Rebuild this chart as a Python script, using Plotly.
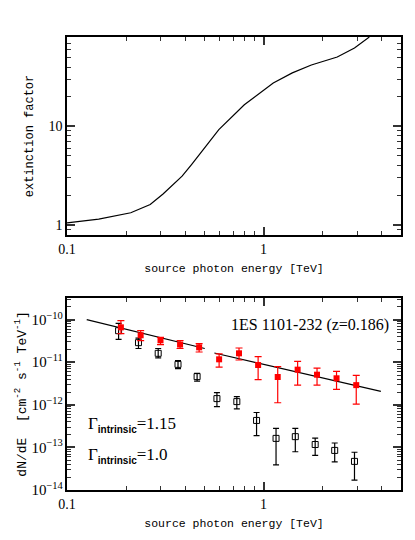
import plotly.graph_objects as go

# extinction factor curve (top panel)
ext_energy = [0.1, 0.145, 0.211, 0.265, 0.308, 0.385, 0.43, 0.592, 0.798, 1.12, 1.40, 1.75, 2.37, 2.90, 3.45]
ext_factor = [1.04, 1.14, 1.32, 1.60, 2.05, 3.11, 4.08, 9.25, 16.6, 27.6, 35.0, 42.1, 50.8, 62.8, 81.0]

# de-absorbed (intrinsic) spectrum, red
red_e = [0.188, 0.237, 0.299, 0.376, 0.47, 0.594, 0.75, 0.938, 1.18, 1.49, 1.87, 2.35, 2.96]
red_f = [6.6e-11, 4.3e-11, 3.27e-11, 2.6e-11, 2.24e-11, 1.17e-11, 1.62e-11, 8.6e-12, 4.5e-12, 6.7e-12, 5.1e-12, 4.2e-12, 2.9e-12]
red_hi = [9.5e-11, 5.5e-11, 3.85e-11, 3.2e-11, 2.73e-11, 1.58e-11, 2.16e-11, 1.35e-11, 7.9e-12, 1.05e-11, 7.3e-12, 6.1e-12, 4.9e-12]
red_lo = [4.7e-11, 3.2e-11, 2.6e-11, 2.1e-11, 1.74e-11, 7.7e-12, 1.13e-11, 3.9e-12, 1.12e-12, 2.9e-12, 2.9e-12, 2.3e-12, 1.04e-12]

# observed spectrum, black open squares
obs_e = [0.183, 0.231, 0.291, 0.367, 0.459, 0.579, 0.731, 0.921, 1.157, 1.45, 1.83, 2.30, 2.90]
obs_f = [5.5e-11, 2.88e-11, 1.62e-11, 8.9e-12, 4.6e-12, 1.4e-12, 1.19e-12, 4.3e-13, 1.63e-13, 1.79e-13, 1.17e-13, 8.5e-14, 4.7e-14]
obs_hi = [8.2e-11, 3.7e-11, 2.1e-11, 1.09e-11, 5.5e-12, 1.93e-12, 1.55e-12, 6.6e-13, 2.8e-13, 2.8e-13, 1.66e-13, 1.27e-13, 7.7e-14]
obs_lo = [3.45e-11, 2.1e-11, 1.26e-11, 7.1e-12, 3.6e-12, 9.1e-13, 8.0e-13, 1.9e-13, 3.9e-14, 7.9e-14, 6.5e-14, 4.6e-14, 1.7e-14]

# power-law fits
fit1_e = [0.126, 0.502]
fit1_f = [1.0e-10, 2.1e-11]
fit2_e = [0.562, 3.95]
fit2_f = [1.65e-11, 2.07e-12]

SERIF = "Liberation Serif"
MONO = "Liberation Mono"

X_RANGE = [-1, 0.699]
EXT_RANGE = [-0.105, 1.909]
FLUX_RANGE = [-14, -9.49]
TOP_DOM = [0.563, 1]
BOT_DOM = [0, 0.424]

fig = go.Figure()

fig.add_trace(go.Scatter(
    x=ext_energy, y=ext_factor, mode="lines",
    line=dict(color="black", width=1.2),
    xaxis="x", yaxis="y", showlegend=False,
))

for fe, ff in [(fit1_e, fit1_f), (fit2_e, fit2_f)]:
    fig.add_trace(go.Scatter(
        x=fe, y=ff, mode="lines", line=dict(color="black", width=1.2),
        xaxis="x2", yaxis="y2", showlegend=False,
    ))

fig.add_trace(go.Scatter(
    x=obs_e, y=obs_f, mode="markers",
    marker=dict(symbol="square-open", size=6, color="black", line=dict(width=1)),
    error_y=dict(type="data", symmetric=False,
                 array=[h - f for h, f in zip(obs_hi, obs_f)],
                 arrayminus=[f - l for f, l in zip(obs_f, obs_lo)],
                 color="black", thickness=1.2, width=3),
    xaxis="x2", yaxis="y2", showlegend=False,
))

fig.add_trace(go.Scatter(
    x=red_e, y=red_f, mode="markers",
    marker=dict(symbol="square", size=6, color="#ff0000"),
    error_y=dict(type="data", symmetric=False,
                 array=[h - f for h, f in zip(red_hi, red_f)],
                 arrayminus=[f - l for f, l in zip(red_f, red_lo)],
                 color="#ff0000", thickness=1.2, width=3.5),
    xaxis="x2", yaxis="y2", showlegend=False,
))

# invisible traces so the tick-only overlay axes get drawn
fig.add_trace(go.Scatter(x=ext_energy, y=ext_factor, mode="lines", line=dict(width=0),
                         hoverinfo="skip", xaxis="x3", yaxis="y3", showlegend=False))
fig.add_trace(go.Scatter(x=red_e, y=red_f, mode="lines", line=dict(width=0),
                         hoverinfo="skip", xaxis="x4", yaxis="y4", showlegend=False))


def log_axis(**kw):
    ax = dict(
        type="log", showline=True, linecolor="black", linewidth=1.5, mirror="ticks",
        ticks="inside", ticklen=8, tickwidth=1.8, tickcolor="#333333", dtick=1,
        minor=dict(ticks="inside", ticklen=4, tickwidth=1.3, tickcolor="#333333", dtick="D1"),
        tickfont=dict(family=SERIF, size=14, color="black"),
    )
    ax.update(kw)
    return ax


def tick_overlay(**kw):
    # second copy of an axis on the opposite side; its mirrored ticks land on the main side
    return log_axis(showticklabels=False, **kw)


xtitle = dict(text="source photon energy [TeV]", font=dict(family=MONO, size=11.5, color="black"), standoff=8)

fig.update_layout(
    width=415, height=540,
    margin=dict(l=45, r=22, t=29, b=58),
    paper_bgcolor="white", plot_bgcolor="white", showlegend=False,
    xaxis=log_axis(range=X_RANGE, domain=[0, 1], anchor="y", title=xtitle),
    yaxis=log_axis(range=EXT_RANGE, domain=TOP_DOM, anchor="x",
                   title=dict(text="extinction factor",
                              font=dict(family=MONO, size=12, color="black"), standoff=12)),
    xaxis2=log_axis(range=X_RANGE, domain=[0, 1], anchor="y2", title=xtitle),
    yaxis2=log_axis(range=FLUX_RANGE, domain=BOT_DOM, anchor="x2",
                    exponentformat="power", showexponent="all",
                    tickfont=dict(family=SERIF, size=12, color="black"),
                    title=dict(text="dN/dE  [cm<sup>-2</sup> s<sup>-1</sup> TeV<sup>-1</sup>]",
                               font=dict(family=MONO, size=13, color="black"), standoff=2)),
    xaxis3=tick_overlay(range=X_RANGE, overlaying="x", side="top", anchor="y3"),
    yaxis3=tick_overlay(range=EXT_RANGE, domain=TOP_DOM, overlaying="y", side="right", anchor="x3"),
    xaxis4=tick_overlay(range=X_RANGE, overlaying="x2", side="top", anchor="y4"),
    yaxis4=tick_overlay(range=FLUX_RANGE, domain=BOT_DOM, overlaying="y2", side="right", anchor="x4"),
)

fig.add_annotation(
    x=0.971, y=0.861, xref="x2 domain", yref="y2 domain", xanchor="right", yanchor="middle",
    text="1ES 1101-232 (z=0.186)", showarrow=False,
    font=dict(family=SERIF, size=16, color="black"),
)
for ypos, gam in [(0.339, "1.15"), (0.18, "1.0")]:
    fig.add_annotation(
        x=0.057, y=ypos, xref="x2 domain", yref="y2 domain", xanchor="left", yanchor="middle",
        text="Γ<sub><b><span style='font-family:Liberation Sans;font-size:10px'>intrinsic</span></b></sub>=" + gam,
        showarrow=False, font=dict(family=SERIF, size=17, color="black"),
    )

fig.write_html("out.html")
